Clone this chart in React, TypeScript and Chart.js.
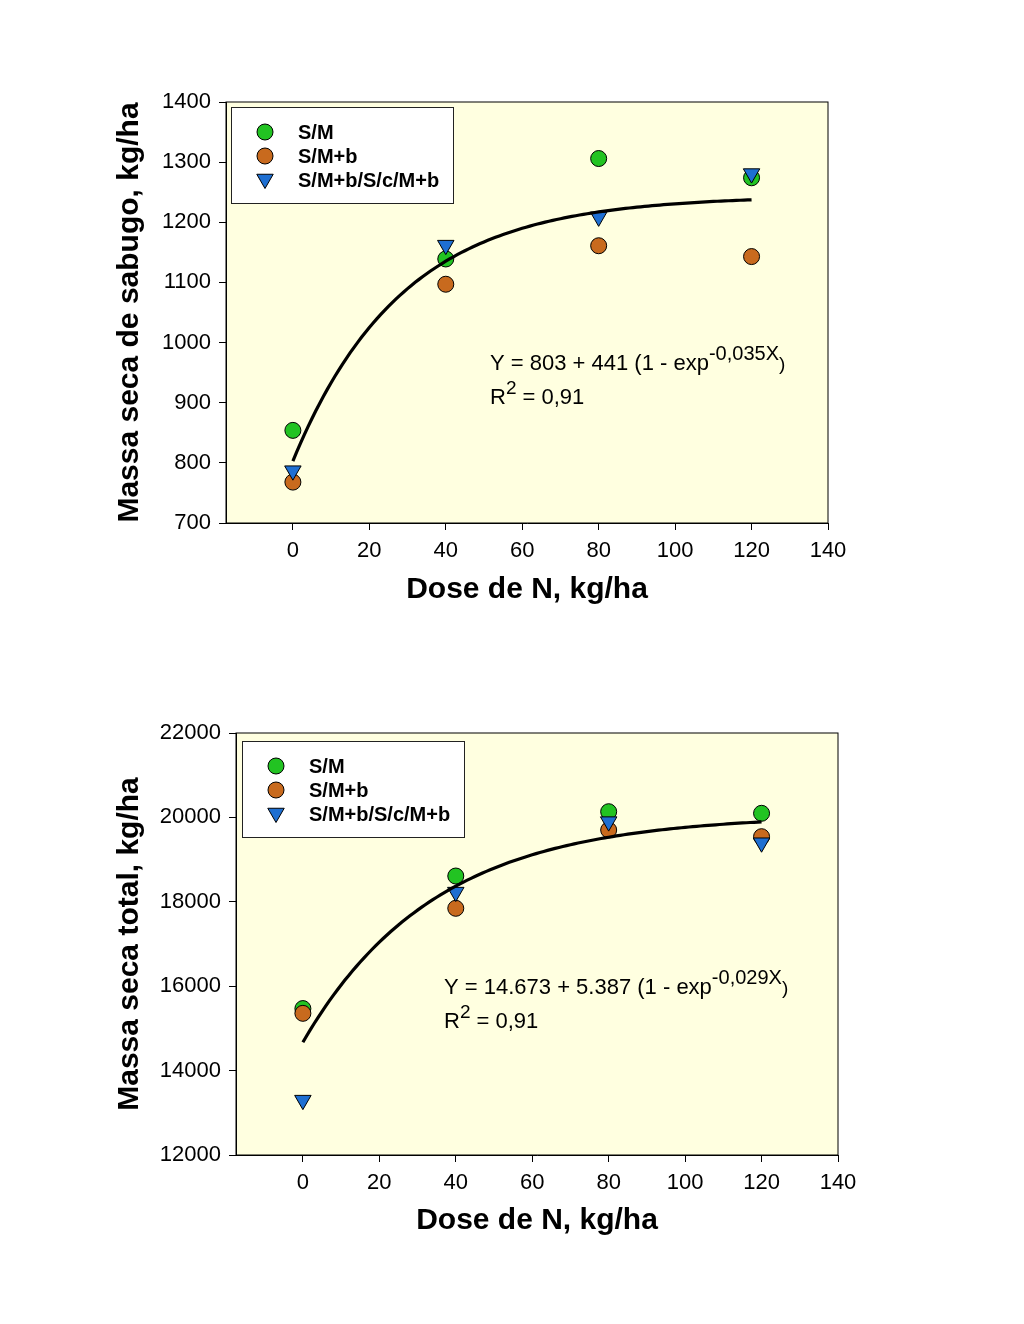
import React, { useEffect, useRef } from "react";
import { Chart, registerables } from "chart.js";

Chart.register(...registerables);

// ---------- data ----------
const doses = [0, 40, 80, 120];
const seriesLabels = ["S/M", "S/M+b", "S/M+b/S/c/M+b"];
const xTicks = [0, 20, 40, 60, 80, 100, 120, 140];

// Top chart: Massa seca de sabugo (kg/ha)
const cobSM = [854, 1139, 1306, 1274];
const cobSMb = [768, 1097, 1161, 1143];
const cobSMbSc = [787, 1162, 1209, 1281];
const cobYTicks = [700, 800, 900, 1000, 1100, 1200, 1300, 1400];
// fitted model printed on the chart: Y = 803 + 441 (1 - exp(-0,035X))
const cobFitA = 803;
const cobFitB = 441;
const cobFitK = 0.035;

// Bottom chart: Massa seca total (kg/ha)
const totSM = [15470, 18611, 20135, 20097];
const totSMb = [15357, 17846, 19701, 19543];
const totSMbSc = [13300, 18230, 19900, 19400];
const totYTicks = [12000, 14000, 16000, 18000, 20000, 22000];
// fitted model printed on the chart: Y = 14.673 + 5.387 (1 - exp(-0,029X))
const totFitA = 14673;
const totFitB = 5387;
const totFitK = 0.029;

const fitXs = Array.from({ length: 121 }, (_, i) => i);

// ---------- style ----------
const FONT = "'Liberation Sans', Arial, Helvetica, sans-serif";
const GREEN = "#22C322";
const BROWN = "#C86A1E";
const BLUE = "#1E6FD2";
const BG = "#FFFFE0";

type Seg = { t: string; size: number; dy: number };

function drawSegs(ctx: CanvasRenderingContext2D, x: number, y: number, segs: Seg[]) {
  let cx = x;
  for (const s of segs) {
    ctx.font = `${s.size}px ${FONT}`;
    ctx.fillText(s.t, cx, y + s.dy);
    cx += ctx.measureText(s.t).width;
  }
}

function drawTriangleDown(ctx: CanvasRenderingContext2D, x: number, y: number, r: number) {
  ctx.beginPath();
  ctx.moveTo(x, y + r);
  ctx.lineTo(x - r * Math.sin(Math.PI / 3), y - r / 2);
  ctx.lineTo(x + r * Math.sin(Math.PI / 3), y - r / 2);
  ctx.closePath();
  ctx.fill();
  ctx.stroke();
}

function makeDecor(o: {
  legendDx: number;
  legendDy: number;
  eqDx: number;
  eqDy: number;
  eq: Seg[];
}) {
  return {
    id: "decor",
    beforeDraw(chart: any) {
      const { ctx, chartArea: a } = chart;
      ctx.save();
      ctx.fillStyle = BG;
      ctx.fillRect(a.left, a.top, a.right - a.left, a.bottom - a.top);
      ctx.restore();
    },
    afterDraw(chart: any) {
      const { ctx, chartArea: a } = chart;
      ctx.save();
      // frame
      ctx.strokeStyle = "#000";
      ctx.lineWidth = 1;
      ctx.strokeRect(a.left, a.top, a.right - a.left, a.bottom - a.top);

      // legend
      const lx = a.left + o.legendDx;
      const ly = a.top + o.legendDy;
      ctx.fillStyle = "#fff";
      ctx.fillRect(lx, ly, 222, 96);
      ctx.strokeStyle = "#222";
      ctx.strokeRect(lx + 0.5, ly + 0.5, 222, 96);
      const rows = [ly + 25, ly + 49, ly + 73];
      const colors = [GREEN, BROWN, BLUE];
      ctx.lineWidth = 1;
      for (let i = 0; i < 3; i++) {
        ctx.fillStyle = colors[i];
        ctx.strokeStyle = "#000";
        if (i < 2) {
          ctx.beginPath();
          ctx.arc(lx + 34, rows[i], 8, 0, Math.PI * 2);
          ctx.fill();
          ctx.stroke();
        } else {
          drawTriangleDown(ctx, lx + 34, rows[i] - 1, 9.5);
        }
        ctx.fillStyle = "#000";
        ctx.font = `bold 20px ${FONT}`;
        ctx.textBaseline = "alphabetic";
        ctx.textAlign = "left";
        ctx.fillText(seriesLabels[i], lx + 67, rows[i] + 7);
      }

      // equation
      ctx.fillStyle = "#000";
      ctx.textBaseline = "alphabetic";
      ctx.textAlign = "left";
      const ex = a.left + o.eqDx;
      const ey = a.top + o.eqDy;
      drawSegs(ctx, ex, ey, o.eq);
      drawSegs(ctx, ex, ey + 34, [
        { t: "R", size: 22, dy: 0 },
        { t: "2", size: 19, dy: -10 },
        { t: " = 0,91", size: 22, dy: 0 },
      ]);
      ctx.restore();
    },
  };
}

function makeChart(
  canvas: HTMLCanvasElement,
  p: {
    sm: number[];
    smb: number[];
    tri: number[];
    fitA: number;
    fitB: number;
    fitK: number;
    yMin: number;
    yMax: number;
    yTicks: number[];
    yTitle: string;
    pad: { left: number; right: number; top: number; bottom: number };
    yWidth: number;
    xTitlePadBottom: number;
    decor: any;
  }
) {
  const pts = (ys: number[]) => doses.map((x, i) => ({ x, y: ys[i] }));
  const fit = fitXs.map((x) => ({ x, y: p.fitA + p.fitB * (1 - Math.exp(-p.fitK * x)) }));
  const tickFont = { family: FONT, size: 22 };
  const titleFont = { family: FONT, size: 30, weight: "bold" as const };
  return new Chart(canvas, {
    type: "scatter",
    data: {
      datasets: [
        {
          label: "fit",
          data: fit,
          showLine: true,
          borderColor: "#000",
          borderWidth: 3.2,
          pointRadius: 0,
          fill: false,
          order: 0,
        } as any,
        {
          label: seriesLabels[2],
          data: pts(p.tri),
          pointStyle: "triangle",
          rotation: 180,
          pointRadius: 9.5,
          backgroundColor: BLUE,
          borderColor: "#000",
          borderWidth: 1,
          order: 1,
        },
        {
          label: seriesLabels[1],
          data: pts(p.smb),
          pointStyle: "circle",
          pointRadius: 8,
          backgroundColor: BROWN,
          borderColor: "#000",
          borderWidth: 1,
          order: 2,
        },
        {
          label: seriesLabels[0],
          data: pts(p.sm),
          pointStyle: "circle",
          pointRadius: 8,
          backgroundColor: GREEN,
          borderColor: "#000",
          borderWidth: 1,
          order: 3,
        },
      ],
    },
    options: {
      animation: false,
      responsive: false,
      devicePixelRatio: 1,
      layout: { padding: p.pad },
      plugins: { legend: { display: false }, tooltip: { enabled: false } },
      scales: {
        x: {
          type: "linear",
          min: -17.5,
          max: 140,
          afterBuildTicks: (s: any) => {
            s.ticks = xTicks.map((v) => ({ value: v }));
          },
          afterFit: (s: any) => {
            s.height = 100;
          },
          ticks: {
            color: "#000",
            font: tickFont,
            padding: 8,
            autoSkip: false,
            maxRotation: 0,
            callback: (v: any) => String(v),
          },
          grid: { drawOnChartArea: false, drawTicks: true, tickLength: 7, color: "#000" },
          border: { color: "#000", width: 1 },
          title: {
            display: true,
            text: "Dose de N, kg/ha",
            color: "#000",
            font: titleFont,
            padding: { top: 0, bottom: p.xTitlePadBottom },
          },
        },
        y: {
          type: "linear",
          min: p.yMin,
          max: p.yMax,
          afterBuildTicks: (s: any) => {
            s.ticks = p.yTicks.map((v) => ({ value: v }));
          },
          afterFit: (s: any) => {
            s.width = p.yWidth;
          },
          ticks: {
            color: "#000",
            font: tickFont,
            padding: 8,
            autoSkip: false,
            callback: (v: any) => String(v),
          },
          grid: { drawOnChartArea: false, drawTicks: true, tickLength: 7, color: "#000" },
          border: { color: "#000", width: 1 },
          title: {
            display: true,
            text: p.yTitle,
            color: "#000",
            font: titleFont,
            padding: { top: 112, bottom: 0 },
          },
        },
      },
    } as any,
    plugins: [p.decor],
  });
}

function ChartBox(props: { build: (c: HTMLCanvasElement) => Chart }) {
  const ref = useRef<HTMLCanvasElement | null>(null);
  useEffect(() => {
    if (!ref.current) return;
    const ch = props.build(ref.current);
    return () => ch.destroy();
  }, []);
  return (
    <div style={{ width: 1024, height: 662 }}>
      <canvas ref={ref} width={1024} height={662} style={{ display: "block", width: 1024, height: 662 }} />
    </div>
  );
}

export default function App() {
  return (
    <div style={{ position: "absolute", left: 0, top: 0, width: 1024, height: 1324, background: "#fff" }}>
      <ChartBox
        build={(c) =>
          makeChart(c, {
            sm: cobSM,
            smb: cobSMb,
            tri: cobSMbSc,
            fitA: cobFitA,
            fitB: cobFitB,
            fitK: cobFitK,
            yMin: 700,
            yMax: 1400,
            yTicks: cobYTicks,
            yTitle: "Massa seca de sabugo, kg/ha",
            pad: { left: 0, right: 196, top: 102, bottom: 39 },
            yWidth: 226,
            xTitlePadBottom: 15,
            decor: makeDecor({
              legendDx: 5,
              legendDy: 5,
              eqDx: 264,
              eqDy: 268,
              eq: [
                { t: "Y = 803 + 441 (1 - exp", size: 22, dy: 0 },
                { t: "-0,035X", size: 20, dy: -10 },
                { t: ")", size: 19, dy: 0 },
              ],
            }),
          })
        }
      />
      <ChartBox
        build={(c) =>
          makeChart(c, {
            sm: totSM,
            smb: totSMb,
            tri: totSMbSc,
            fitA: totFitA,
            fitB: totFitB,
            fitK: totFitK,
            yMin: 12000,
            yMax: 22000,
            yTicks: totYTicks,
            yTitle: "Massa seca total, kg/ha",
            pad: { left: 0, right: 186, top: 71, bottom: 69 },
            yWidth: 236,
            xTitlePadBottom: 16,
            decor: makeDecor({
              legendDx: 6,
              legendDy: 8,
              eqDx: 208,
              eqDy: 261,
              eq: [
                { t: "Y = 14.673 + 5.387 (1 - exp", size: 22, dy: 0 },
                { t: "-0,029X", size: 20, dy: -10 },
                { t: ")", size: 19, dy: 0 },
              ],
            }),
          })
        }
      />
    </div>
  );
}
